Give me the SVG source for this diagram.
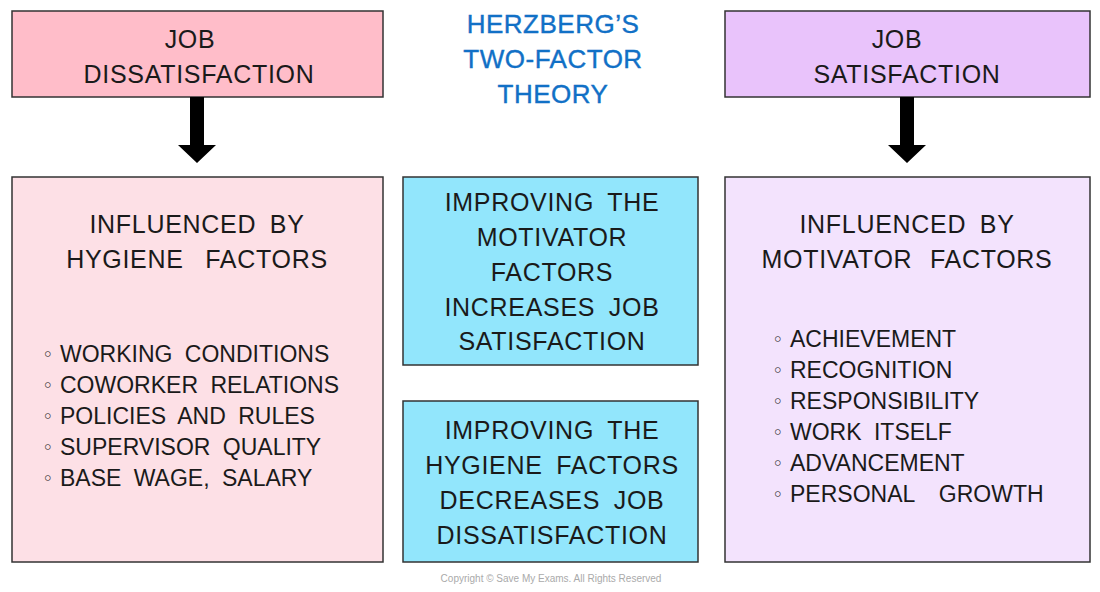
<svg xmlns="http://www.w3.org/2000/svg" width="1100" height="592" viewBox="0 0 1100 592">
<style>
.box{stroke:#333;stroke-width:1.5}
.t{font-family:"Liberation Sans",Arial,sans-serif;fill:#1a1a1a;font-size:25px;text-anchor:middle;word-spacing:6px;letter-spacing:0.7px}
.b{font-family:"Liberation Sans",Arial,sans-serif;fill:#1a1a1a;font-size:23px;word-spacing:6px}
.d{font-family:"DejaVu Sans",sans-serif;fill:#1a1a1a;font-size:19px}
.title{font-family:"Liberation Sans",Arial,sans-serif;fill:#1170c6;font-size:26px;text-anchor:middle;letter-spacing:0.5px;stroke:#1170c6;stroke-width:0.4}
.copy{font-family:"Liberation Sans",Arial,sans-serif;fill:#aaaaaa;font-size:10px;text-anchor:middle}
</style>
<rect width="1100" height="592" fill="#ffffff"/>
<g id="title">
<text class="title" x="553" y="33">HERZBERG’S</text>
<text class="title" x="553" y="68">TWO-FACTOR</text>
<text class="title" x="553" y="103">THEORY</text>
</g>
<g id="job-dissatisfaction">
<rect class="box" x="12" y="11" width="371" height="86" fill="#ffbdc9"/>
<text class="t" x="190" y="48">JOB</text>
<text class="t" x="199" y="83">DISSATISFACTION</text>
</g>
<g id="job-satisfaction">
<rect class="box" x="725" y="11" width="365" height="86" fill="#e9c3fb"/>
<text class="t" x="897" y="48">JOB</text>
<text class="t" x="907" y="83">SATISFACTION</text>
</g>
<g id="connectors" fill="#000">
<polygon points="190,97 204,97 204,145 216,145 197,163 178,145 190,145"/>
<polygon points="900,97 914,97 914,145 926,145 907,163 888,145 900,145"/>
</g>
<g id="hygiene">
<rect class="box" x="12" y="177" width="371" height="385" fill="#fde0e6"/>
<text class="t" x="197" y="233">INFLUENCED BY</text>
<text class="t" x="197" y="268" style="word-spacing:14px">HYGIENE FACTORS</text>
<g class="d"><text x="42" y="361">◦</text><text x="42" y="392">◦</text><text x="42" y="423">◦</text><text x="42" y="454">◦</text><text x="42" y="485">◦</text></g>
<text class="b" x="60" y="362">WORKING CONDITIONS</text>
<text class="b" x="60" y="393">COWORKER RELATIONS</text>
<text class="b" x="60" y="424">POLICIES AND RULES</text>
<text class="b" x="60" y="455">SUPERVISOR QUALITY</text>
<text class="b" x="60" y="486">BASE WAGE, SALARY</text>
</g>
<g id="motivator-increase">
<rect class="box" x="403" y="177" width="295" height="188" fill="#92e6fc"/>
<text class="t" x="552" y="211">IMPROVING THE</text>
<text class="t" x="552" y="246">MOTIVATOR</text>
<text class="t" x="552" y="281">FACTORS</text>
<text class="t" x="552" y="316">INCREASES JOB</text>
<text class="t" x="552" y="350">SATISFACTION</text>
</g>
<g id="hygiene-decrease">
<rect class="box" x="403" y="401" width="295" height="161" fill="#92e6fc"/>
<text class="t" x="552" y="439">IMPROVING THE</text>
<text class="t" x="552" y="474">HYGIENE FACTORS</text>
<text class="t" x="552" y="509">DECREASES JOB</text>
<text class="t" x="552" y="544">DISSATISFACTION</text>
</g>
<g id="motivator">
<rect class="box" x="725" y="177" width="365" height="385" fill="#f3e3fd"/>
<text class="t" x="907" y="233">INFLUENCED BY</text>
<text class="t" x="907" y="268" style="word-spacing:10px">MOTIVATOR FACTORS</text>
<g class="d"><text x="772" y="346">◦</text><text x="772" y="377">◦</text><text x="772" y="408">◦</text><text x="772" y="439">◦</text><text x="772" y="470">◦</text><text x="772" y="501">◦</text></g>
<text class="b" x="790" y="347">ACHIEVEMENT</text>
<text class="b" x="790" y="378">RECOGNITION</text>
<text class="b" x="790" y="409">RESPONSIBILITY</text>
<text class="b" x="790" y="440">WORK ITSELF</text>
<text class="b" x="790" y="471">ADVANCEMENT</text>
<text class="b" x="790" y="502" style="word-spacing:18px">PERSONAL GROWTH</text>
</g>
<text class="copy" x="551" y="582">Copyright © Save My Exams. All Rights Reserved</text>
</svg>
